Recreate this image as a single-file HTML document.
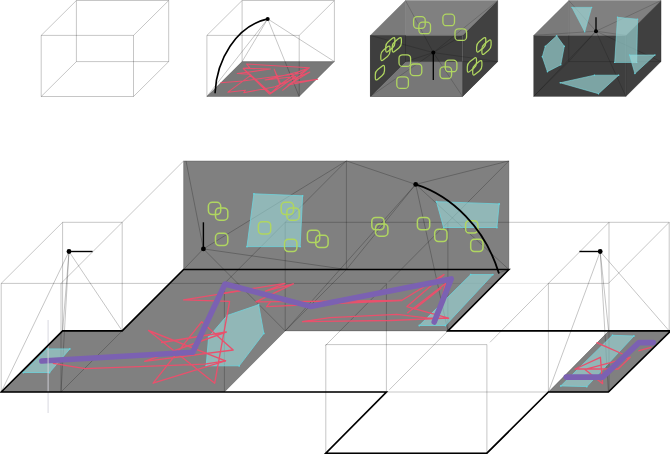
<!DOCTYPE html>
<html lang="en"><head><meta charset="utf-8"><title>Room composition diagram</title>
<style>
html,body{margin:0;padding:0;background:#fff;font-family:"Liberation Sans",sans-serif;}
svg{display:block;}
</style></head><body>
<svg width="670" height="454" viewBox="0 0 670 454">
<rect width="670" height="454" fill="#fff"/>

<g id="box1">
<line x1="41.2" y1="96.5" x2="133.5" y2="96.5" stroke="#000" stroke-opacity="0.30" stroke-width="0.75" fill="none"/>
<line x1="76.4" y1="61.6" x2="168.7" y2="61.6" stroke="#000" stroke-opacity="0.30" stroke-width="0.75" fill="none"/>
<line x1="41.2" y1="96.5" x2="76.4" y2="61.6" stroke="#000" stroke-opacity="0.30" stroke-width="0.75" fill="none"/>
<line x1="133.5" y1="96.5" x2="168.7" y2="61.6" stroke="#000" stroke-opacity="0.30" stroke-width="0.75" fill="none"/>
<line x1="41.2" y1="35.4" x2="133.5" y2="35.4" stroke="#000" stroke-opacity="0.30" stroke-width="0.75" fill="none"/>
<line x1="76.4" y1="0.5" x2="168.7" y2="0.5" stroke="#000" stroke-opacity="0.30" stroke-width="0.75" fill="none"/>
<line x1="41.2" y1="35.4" x2="76.4" y2="0.5" stroke="#000" stroke-opacity="0.30" stroke-width="0.75" fill="none"/>
<line x1="133.5" y1="35.4" x2="168.7" y2="0.5" stroke="#000" stroke-opacity="0.30" stroke-width="0.75" fill="none"/>
<line x1="41.2" y1="96.5" x2="41.2" y2="35.4" stroke="#000" stroke-opacity="0.30" stroke-width="0.75" fill="none"/>
<line x1="133.5" y1="96.5" x2="133.5" y2="35.4" stroke="#000" stroke-opacity="0.30" stroke-width="0.75" fill="none"/>
<line x1="76.4" y1="61.6" x2="76.4" y2="0.5" stroke="#000" stroke-opacity="0.30" stroke-width="0.75" fill="none"/>
<line x1="168.7" y1="61.6" x2="168.7" y2="0.5" stroke="#000" stroke-opacity="0.30" stroke-width="0.75" fill="none"/>
</g>
<g id="box2">
<polygon points="206.9,96.5 299.2,96.5 334.4,61.6 242.1,61.6" fill="#787878"/>
<line x1="206.9" y1="96.5" x2="299.2" y2="96.5" stroke="#000" stroke-opacity="0.30" stroke-width="0.75" fill="none"/>
<line x1="242.1" y1="61.6" x2="334.4" y2="61.6" stroke="#000" stroke-opacity="0.30" stroke-width="0.75" fill="none"/>
<line x1="206.9" y1="96.5" x2="242.1" y2="61.6" stroke="#000" stroke-opacity="0.30" stroke-width="0.75" fill="none"/>
<line x1="299.2" y1="96.5" x2="334.4" y2="61.6" stroke="#000" stroke-opacity="0.30" stroke-width="0.75" fill="none"/>
<line x1="206.9" y1="35.4" x2="299.2" y2="35.4" stroke="#000" stroke-opacity="0.30" stroke-width="0.75" fill="none"/>
<line x1="242.1" y1="0.5" x2="334.4" y2="0.5" stroke="#000" stroke-opacity="0.30" stroke-width="0.75" fill="none"/>
<line x1="206.9" y1="35.4" x2="242.1" y2="0.5" stroke="#000" stroke-opacity="0.30" stroke-width="0.75" fill="none"/>
<line x1="299.2" y1="35.4" x2="334.4" y2="0.5" stroke="#000" stroke-opacity="0.30" stroke-width="0.75" fill="none"/>
<line x1="206.9" y1="96.5" x2="206.9" y2="35.4" stroke="#000" stroke-opacity="0.30" stroke-width="0.75" fill="none"/>
<line x1="299.2" y1="96.5" x2="299.2" y2="35.4" stroke="#000" stroke-opacity="0.30" stroke-width="0.75" fill="none"/>
<line x1="242.1" y1="61.6" x2="242.1" y2="0.5" stroke="#000" stroke-opacity="0.30" stroke-width="0.75" fill="none"/>
<line x1="334.4" y1="61.6" x2="334.4" y2="0.5" stroke="#000" stroke-opacity="0.30" stroke-width="0.75" fill="none"/>
<line x1="267.7" y1="18.9" x2="206.9" y2="96.5" stroke="#000" stroke-opacity="0.30" stroke-width="0.75" fill="none"/>
<line x1="267.7" y1="18.9" x2="299.2" y2="96.5" stroke="#000" stroke-opacity="0.30" stroke-width="0.75" fill="none"/>
<line x1="267.7" y1="18.9" x2="242.1" y2="61.6" stroke="#000" stroke-opacity="0.30" stroke-width="0.75" fill="none"/>
<line x1="267.7" y1="18.9" x2="334.4" y2="61.6" stroke="#000" stroke-opacity="0.30" stroke-width="0.75" fill="none"/>
<polyline points="220.5,82.8 242.7,81.1 275.0,76.5 300.0,73.5 309.4,67.7 246.4,64.0 249.7,67.7 243.2,68.2 270.5,69.1 247.3,72.3 237.2,73.5 250.1,74.2 269.5,94.0 243.2,68.5 271.0,93.5 251.0,75.1 227.9,92.2 245.5,90.3 243.7,92.7 275.0,86.7 309.8,72.0 288.0,85.0 317.7,79.3 292.7,82.5 282.6,90.3 309.4,67.7 299.0,71.5 280.7,84.0 274.2,69.1 279.8,84.8 270.0,94.0 295.5,76.5 265.0,80.0 300.0,71.5" fill="none" stroke="#e9506c" stroke-width="1.05" stroke-linejoin="round"/>
<path d="M215.1,92.6 C216.5,60 236,26 267.7,18.9" fill="none" stroke="#000" stroke-width="1.6" stroke-linecap="round"/>
<circle cx="267.7" cy="18.9" r="2" fill="#000"/>
</g>
<g id="box3">
<polygon points="370.3,35.4 405.5,0.5 405.5,35.4" fill="#7a7a7a"/>
<polygon points="405.5,0.5 497.8,0.5 462.6,35.4 405.5,35.4" fill="#808080"/>
<polygon points="370.3,35.4 462.6,35.4 462.6,96.5 370.3,96.5" fill="#3e3e3e"/>
<polygon points="370.3,96.5 462.6,96.5 497.8,61.6 405.5,61.6" fill="#777777"/>
<polygon points="370.3,96.5 405.5,61.6 405.5,35.4 370.3,35.4" fill="#3e3e3e"/>
<polygon points="462.6,35.4 497.8,0.5 497.8,61.6 462.6,96.5" fill="#414141"/>
<line x1="370.3" y1="96.5" x2="462.6" y2="96.5" stroke="#000" stroke-opacity="0.24" stroke-width="0.7" fill="none"/>
<line x1="405.5" y1="61.6" x2="497.8" y2="61.6" stroke="#000" stroke-opacity="0.24" stroke-width="0.7" fill="none"/>
<line x1="370.3" y1="96.5" x2="405.5" y2="61.6" stroke="#000" stroke-opacity="0.24" stroke-width="0.7" fill="none"/>
<line x1="462.6" y1="96.5" x2="497.8" y2="61.6" stroke="#000" stroke-opacity="0.24" stroke-width="0.7" fill="none"/>
<line x1="370.3" y1="35.4" x2="462.6" y2="35.4" stroke="#000" stroke-opacity="0.24" stroke-width="0.7" fill="none"/>
<line x1="405.5" y1="0.5" x2="497.8" y2="0.5" stroke="#000" stroke-opacity="0.24" stroke-width="0.7" fill="none"/>
<line x1="370.3" y1="35.4" x2="405.5" y2="0.5" stroke="#000" stroke-opacity="0.24" stroke-width="0.7" fill="none"/>
<line x1="462.6" y1="35.4" x2="497.8" y2="0.5" stroke="#000" stroke-opacity="0.24" stroke-width="0.7" fill="none"/>
<line x1="370.3" y1="96.5" x2="370.3" y2="35.4" stroke="#000" stroke-opacity="0.24" stroke-width="0.7" fill="none"/>
<line x1="462.6" y1="96.5" x2="462.6" y2="35.4" stroke="#000" stroke-opacity="0.24" stroke-width="0.7" fill="none"/>
<line x1="405.5" y1="61.6" x2="405.5" y2="0.5" stroke="#000" stroke-opacity="0.24" stroke-width="0.7" fill="none"/>
<line x1="497.8" y1="61.6" x2="497.8" y2="0.5" stroke="#000" stroke-opacity="0.24" stroke-width="0.7" fill="none"/>
<line x1="433.3" y1="52.6" x2="370.3" y2="96.5" stroke="#000" stroke-opacity="0.24" stroke-width="0.7" fill="none"/>
<line x1="433.3" y1="52.6" x2="462.6" y2="96.5" stroke="#000" stroke-opacity="0.24" stroke-width="0.7" fill="none"/>
<line x1="433.3" y1="52.6" x2="405.5" y2="61.6" stroke="#000" stroke-opacity="0.24" stroke-width="0.7" fill="none"/>
<line x1="433.3" y1="52.6" x2="497.8" y2="61.6" stroke="#000" stroke-opacity="0.24" stroke-width="0.7" fill="none"/>
<line x1="433.3" y1="52.6" x2="370.3" y2="35.4" stroke="#000" stroke-opacity="0.24" stroke-width="0.7" fill="none"/>
<line x1="433.3" y1="52.6" x2="462.6" y2="35.4" stroke="#000" stroke-opacity="0.24" stroke-width="0.7" fill="none"/>
<line x1="433.3" y1="52.6" x2="405.5" y2="0.5" stroke="#000" stroke-opacity="0.24" stroke-width="0.7" fill="none"/>
<line x1="433.3" y1="52.6" x2="497.8" y2="0.5" stroke="#000" stroke-opacity="0.24" stroke-width="0.7" fill="none"/>
<rect x="413.6" y="16.7" width="11.6" height="11.6" rx="3.5" fill="none" stroke="#b0d660" stroke-width="1.3"/>
<rect x="418.9" y="22.1" width="11.6" height="11.6" rx="3.5" fill="none" stroke="#b0d660" stroke-width="1.3"/>
<rect x="442.9" y="14.1" width="11.6" height="11.6" rx="3.5" fill="none" stroke="#b0d660" stroke-width="1.3"/>
<rect x="455.0" y="28.8" width="11.6" height="11.6" rx="3.5" fill="none" stroke="#b0d660" stroke-width="1.3"/>
<rect x="399.0" y="54.8" width="11.6" height="11.6" rx="3.5" fill="none" stroke="#b0d660" stroke-width="1.3"/>
<rect x="410.2" y="64.0" width="11.6" height="11.6" rx="3.5" fill="none" stroke="#b0d660" stroke-width="1.3"/>
<rect x="396.8" y="76.8" width="11.6" height="11.6" rx="3.5" fill="none" stroke="#b0d660" stroke-width="1.3"/>
<rect x="445.3" y="60.1" width="11.6" height="11.6" rx="3.5" fill="none" stroke="#b0d660" stroke-width="1.3"/>
<rect x="440.0" y="66.9" width="11.6" height="11.6" rx="3.5" fill="none" stroke="#b0d660" stroke-width="1.3"/>
<path d="M385.70,46.88 Q385.70,43.68 388.20,41.68 L392.40,38.32 Q394.90,36.32 394.90,39.52 L394.90,42.72 Q394.90,45.92 392.40,47.92 L388.20,51.28 Q385.70,53.28 385.70,50.08 Z" fill="none" stroke="#b0d660" stroke-width="1.25"/>
<path d="M392.20,46.88 Q392.20,43.68 394.70,41.68 L398.90,38.32 Q401.40,36.32 401.40,39.52 L401.40,42.72 Q401.40,45.92 398.90,47.92 L394.70,51.28 Q392.20,53.28 392.20,50.08 Z" fill="none" stroke="#b0d660" stroke-width="1.25"/>
<path d="M380.80,55.38 Q380.80,52.18 383.30,50.18 L387.50,46.82 Q390.00,44.82 390.00,48.02 L390.00,51.22 Q390.00,54.42 387.50,56.42 L383.30,59.78 Q380.80,61.78 380.80,58.58 Z" fill="none" stroke="#b0d660" stroke-width="1.25"/>
<path d="M375.30,74.78 Q375.30,71.58 377.80,69.58 L382.00,66.22 Q384.50,64.22 384.50,67.42 L384.50,70.62 Q384.50,73.82 382.00,75.82 L377.80,79.18 Q375.30,81.18 375.30,77.98 Z" fill="none" stroke="#b0d660" stroke-width="1.25"/>
<path d="M476.60,46.88 Q476.60,43.68 479.10,41.68 L483.30,38.32 Q485.80,36.32 485.80,39.52 L485.80,42.72 Q485.80,45.92 483.30,47.92 L479.10,51.28 Q476.60,53.28 476.60,50.08 Z" fill="none" stroke="#b0d660" stroke-width="1.25"/>
<path d="M481.90,49.28 Q481.90,46.08 484.40,44.08 L488.60,40.72 Q491.10,38.72 491.10,41.92 L491.10,45.12 Q491.10,48.32 488.60,50.32 L484.40,53.68 Q481.90,55.68 481.90,52.48 Z" fill="none" stroke="#b0d660" stroke-width="1.25"/>
<path d="M467.30,66.98 Q467.30,63.78 469.80,61.78 L474.00,58.42 Q476.50,56.42 476.50,59.62 L476.50,62.82 Q476.50,66.02 474.00,68.02 L469.80,71.38 Q467.30,73.38 467.30,70.18 Z" fill="none" stroke="#b0d660" stroke-width="1.25"/>
<path d="M472.70,69.88 Q472.70,66.68 475.20,64.68 L479.40,61.32 Q481.90,59.32 481.90,62.52 L481.90,65.72 Q481.90,68.92 479.40,70.92 L475.20,74.28 Q472.70,76.28 472.70,73.08 Z" fill="none" stroke="#b0d660" stroke-width="1.25"/>
<line x1="433.3" y1="52.6" x2="433.3" y2="80.1" stroke="#000" stroke-width="1.3"/>
<circle cx="433.3" cy="52.6" r="2" fill="#000"/>
</g>
<g id="box4">
<polygon points="533.6,35.4 568.8,0.5 568.8,35.4" fill="#7a7a7a"/>
<polygon points="568.8,0.5 661.1,0.5 625.9,35.4 568.8,35.4" fill="#808080"/>
<polygon points="533.6,35.4 625.9,35.4 625.9,96.5 533.6,96.5" fill="#3e3e3e"/>
<polygon points="625.9,35.4 661.1,0.5 661.1,61.6 625.9,96.5" fill="#404040"/>
<line x1="533.6" y1="96.5" x2="625.9" y2="96.5" stroke="#000" stroke-opacity="0.24" stroke-width="0.7" fill="none"/>
<line x1="568.8" y1="61.6" x2="661.1" y2="61.6" stroke="#000" stroke-opacity="0.24" stroke-width="0.7" fill="none"/>
<line x1="533.6" y1="96.5" x2="568.8" y2="61.6" stroke="#000" stroke-opacity="0.24" stroke-width="0.7" fill="none"/>
<line x1="625.9" y1="96.5" x2="661.1" y2="61.6" stroke="#000" stroke-opacity="0.24" stroke-width="0.7" fill="none"/>
<line x1="533.6" y1="35.4" x2="625.9" y2="35.4" stroke="#000" stroke-opacity="0.24" stroke-width="0.7" fill="none"/>
<line x1="568.8" y1="0.5" x2="661.1" y2="0.5" stroke="#000" stroke-opacity="0.24" stroke-width="0.7" fill="none"/>
<line x1="533.6" y1="35.4" x2="568.8" y2="0.5" stroke="#000" stroke-opacity="0.24" stroke-width="0.7" fill="none"/>
<line x1="625.9" y1="35.4" x2="661.1" y2="0.5" stroke="#000" stroke-opacity="0.24" stroke-width="0.7" fill="none"/>
<line x1="533.6" y1="96.5" x2="533.6" y2="35.4" stroke="#000" stroke-opacity="0.24" stroke-width="0.7" fill="none"/>
<line x1="625.9" y1="96.5" x2="625.9" y2="35.4" stroke="#000" stroke-opacity="0.24" stroke-width="0.7" fill="none"/>
<line x1="568.8" y1="61.6" x2="568.8" y2="0.5" stroke="#000" stroke-opacity="0.24" stroke-width="0.7" fill="none"/>
<line x1="661.1" y1="61.6" x2="661.1" y2="0.5" stroke="#000" stroke-opacity="0.24" stroke-width="0.7" fill="none"/>
<line x1="596.0" y1="31.2" x2="533.6" y2="96.5" stroke="#000" stroke-opacity="0.24" stroke-width="0.7" fill="none"/>
<line x1="596.0" y1="31.2" x2="625.9" y2="96.5" stroke="#000" stroke-opacity="0.24" stroke-width="0.7" fill="none"/>
<line x1="596.0" y1="31.2" x2="568.8" y2="61.6" stroke="#000" stroke-opacity="0.24" stroke-width="0.7" fill="none"/>
<line x1="596.0" y1="31.2" x2="661.1" y2="61.6" stroke="#000" stroke-opacity="0.24" stroke-width="0.7" fill="none"/>
<line x1="596.0" y1="31.2" x2="533.6" y2="35.4" stroke="#000" stroke-opacity="0.24" stroke-width="0.7" fill="none"/>
<line x1="596.0" y1="31.2" x2="625.9" y2="35.4" stroke="#000" stroke-opacity="0.24" stroke-width="0.7" fill="none"/>
<line x1="596.0" y1="31.2" x2="568.8" y2="0.5" stroke="#000" stroke-opacity="0.24" stroke-width="0.7" fill="none"/>
<line x1="596.0" y1="31.2" x2="661.1" y2="0.5" stroke="#000" stroke-opacity="0.24" stroke-width="0.7" fill="none"/>
<polygon points="572.0,7.4 591.6,7.4 584.7,31.7" fill="#9fdede" fill-opacity="0.64" stroke="#7ad6dc" stroke-width="0.6" stroke-linejoin="round"/>
<circle cx="572.0" cy="7.4" r="0.7" fill="#62d4de"/>
<circle cx="591.6" cy="7.4" r="0.7" fill="#62d4de"/>
<circle cx="584.7" cy="31.7" r="0.7" fill="#62d4de"/>
<polygon points="556.7,35.8 564.3,46.3 560.8,64.8 547.4,71.7 542.3,56.7 545.3,46.3" fill="#9fdede" fill-opacity="0.64" stroke="#7ad6dc" stroke-width="0.6" stroke-linejoin="round"/>
<circle cx="556.7" cy="35.8" r="0.7" fill="#62d4de"/>
<circle cx="564.3" cy="46.3" r="0.7" fill="#62d4de"/>
<circle cx="560.8" cy="64.8" r="0.7" fill="#62d4de"/>
<circle cx="547.4" cy="71.7" r="0.7" fill="#62d4de"/>
<circle cx="542.3" cy="56.7" r="0.7" fill="#62d4de"/>
<circle cx="545.3" cy="46.3" r="0.7" fill="#62d4de"/>
<polygon points="617.5,17.3 637.6,19.2 636.7,62.4 614.7,62.4" fill="#9fdede" fill-opacity="0.64" stroke="#7ad6dc" stroke-width="0.6" stroke-linejoin="round"/>
<circle cx="617.5" cy="17.3" r="0.7" fill="#62d4de"/>
<circle cx="637.6" cy="19.2" r="0.7" fill="#62d4de"/>
<circle cx="636.7" cy="62.4" r="0.7" fill="#62d4de"/>
<circle cx="614.7" cy="62.4" r="0.7" fill="#62d4de"/>
<polygon points="629.5,55.0 655.0,55.0 634.9,73.5" fill="#9fdede" fill-opacity="0.64" stroke="#7ad6dc" stroke-width="0.6" stroke-linejoin="round"/>
<circle cx="629.5" cy="55.0" r="0.7" fill="#62d4de"/>
<circle cx="655.0" cy="55.0" r="0.7" fill="#62d4de"/>
<circle cx="634.9" cy="73.5" r="0.7" fill="#62d4de"/>
<polygon points="560.2,82.8 594.4,75.2 618.7,75.2 598.5,93.7" fill="#9fdede" fill-opacity="0.64" stroke="#7ad6dc" stroke-width="0.6" stroke-linejoin="round"/>
<circle cx="560.2" cy="82.8" r="0.7" fill="#62d4de"/>
<circle cx="594.4" cy="75.2" r="0.7" fill="#62d4de"/>
<circle cx="618.7" cy="75.2" r="0.7" fill="#62d4de"/>
<circle cx="598.5" cy="93.7" r="0.7" fill="#62d4de"/>
<line x1="596.0" y1="31.2" x2="596.0" y2="17.3" stroke="#000" stroke-width="1.3"/>
<circle cx="596.0" cy="31.2" r="2" fill="#000"/>
</g>
<g id="scene">
<polygon points="183.6,160.9 508.9,160.9 508.9,269.5 183.6,269.5" fill="#808080"/>
<polygon points="1.2,392.0 62.6,330.9 122.2,330.9 183.6,269.5 508.9,269.5 447.9,330.9 285.2,330.9 224.4,392.0" fill="#808080"/>
<polygon points="548.4,392.0 608.4,392.0 669.2,330.9 608.6,330.9" fill="#808080"/>
<line x1="1.2" y1="392.0" x2="608.4" y2="392.0" stroke="#000" stroke-opacity="0.30" stroke-width="0.75" fill="none"/>
<line x1="62.6" y1="330.9" x2="122.2" y2="330.9" stroke="#000" stroke-opacity="0.30" stroke-width="0.75" fill="none"/>
<line x1="285.2" y1="330.9" x2="669.2" y2="330.9" stroke="#000" stroke-opacity="0.30" stroke-width="0.75" fill="none"/>
<line x1="1.2" y1="392.0" x2="62.6" y2="330.9" stroke="#000" stroke-opacity="0.30" stroke-width="0.75" fill="none"/>
<line x1="60.8" y1="392.2" x2="183.4" y2="269.8" stroke="#000" stroke-opacity="0.30" stroke-width="0.75" fill="none"/>
<line x1="1.2" y1="283.4" x2="386.4" y2="283.4" stroke="#000" stroke-opacity="0.30" stroke-width="0.75" fill="none"/>
<line x1="548.4" y1="283.4" x2="608.4" y2="283.4" stroke="#000" stroke-opacity="0.30" stroke-width="0.75" fill="none"/>
<line x1="62.6" y1="222.3" x2="122.2" y2="222.3" stroke="#000" stroke-opacity="0.30" stroke-width="0.75" fill="none"/>
<line x1="285.2" y1="222.3" x2="669.2" y2="222.3" stroke="#000" stroke-opacity="0.30" stroke-width="0.75" fill="none"/>
<line x1="1.2" y1="283.4" x2="62.6" y2="222.3" stroke="#000" stroke-opacity="0.30" stroke-width="0.75" fill="none"/>
<line x1="60.9" y1="283.5" x2="183.4" y2="161.2" stroke="#000" stroke-opacity="0.30" stroke-width="0.75" fill="none"/>
<line x1="1.2" y1="283.4" x2="1.2" y2="392.0" stroke="#000" stroke-opacity="0.30" stroke-width="0.75" fill="none"/>
<line x1="61.0" y1="283.4" x2="61.0" y2="392.0" stroke="#000" stroke-opacity="0.30" stroke-width="0.75" fill="none"/>
<line x1="62.6" y1="222.3" x2="62.6" y2="330.9" stroke="#000" stroke-opacity="0.30" stroke-width="0.75" fill="none"/>
<line x1="122.2" y1="222.3" x2="122.2" y2="330.9" stroke="#000" stroke-opacity="0.30" stroke-width="0.75" fill="none"/>
<line x1="183.6" y1="269.5" x2="508.9" y2="269.5" stroke="#000" stroke-opacity="0.30" stroke-width="0.75" fill="none"/>
<line x1="224.3" y1="392.1" x2="346.5" y2="269.4" stroke="#000" stroke-opacity="0.30" stroke-width="0.75" fill="none"/>
<line x1="183.6" y1="160.9" x2="508.9" y2="160.9" stroke="#000" stroke-opacity="0.30" stroke-width="0.75" fill="none"/>
<line x1="224.3" y1="283.5" x2="346.5" y2="160.8" stroke="#000" stroke-opacity="0.30" stroke-width="0.75" fill="none"/>
<line x1="224.4" y1="283.4" x2="224.4" y2="392.0" stroke="#000" stroke-opacity="0.30" stroke-width="0.75" fill="none"/>
<line x1="183.6" y1="160.9" x2="183.6" y2="269.5" stroke="#000" stroke-opacity="0.30" stroke-width="0.75" fill="none"/>
<line x1="346.4" y1="160.9" x2="346.4" y2="269.5" stroke="#000" stroke-opacity="0.30" stroke-width="0.75" fill="none"/>
<line x1="325.5" y1="454.1" x2="386.2" y2="393.0" stroke="#000" stroke-opacity="0.30" stroke-width="0.75" fill="none"/>
<line x1="389.3" y1="389.8" x2="508.9" y2="269.5" stroke="#000" stroke-opacity="0.30" stroke-width="0.75" fill="none"/>
<line x1="325.5" y1="345.5" x2="386.2" y2="284.4" stroke="#000" stroke-opacity="0.30" stroke-width="0.75" fill="none"/>
<line x1="389.0" y1="281.6" x2="508.9" y2="160.9" stroke="#000" stroke-opacity="0.30" stroke-width="0.75" fill="none"/>
<line x1="285.2" y1="222.3" x2="285.2" y2="330.9" stroke="#000" stroke-opacity="0.30" stroke-width="0.75" fill="none"/>
<line x1="447.9" y1="222.3" x2="447.9" y2="330.9" stroke="#000" stroke-opacity="0.30" stroke-width="0.75" fill="none"/>
<line x1="508.9" y1="160.9" x2="508.9" y2="269.5" stroke="#000" stroke-opacity="0.30" stroke-width="0.75" fill="none"/>
<line x1="386.4" y1="283.4" x2="386.4" y2="392.0" stroke="#000" stroke-opacity="0.30" stroke-width="0.75" fill="none"/>
<line x1="490.4" y1="450.5" x2="609.0" y2="330.9" stroke="#000" stroke-opacity="0.30" stroke-width="0.75" fill="none"/>
<line x1="490.0" y1="342.3" x2="609.0" y2="222.3" stroke="#000" stroke-opacity="0.30" stroke-width="0.75" fill="none"/>
<line x1="548.4" y1="283.4" x2="548.4" y2="392.0" stroke="#000" stroke-opacity="0.30" stroke-width="0.75" fill="none"/>
<line x1="609.0" y1="222.3" x2="609.0" y2="392.0" stroke="#000" stroke-opacity="0.30" stroke-width="0.75" fill="none"/>
<line x1="325.8" y1="453.2" x2="486.9" y2="453.2" stroke="#000" stroke-opacity="0.30" stroke-width="0.75" fill="none"/>
<line x1="325.8" y1="344.6" x2="486.9" y2="344.6" stroke="#000" stroke-opacity="0.30" stroke-width="0.75" fill="none"/>
<line x1="325.8" y1="344.6" x2="325.8" y2="453.2" stroke="#000" stroke-opacity="0.30" stroke-width="0.75" fill="none"/>
<line x1="486.9" y1="344.6" x2="486.9" y2="453.2" stroke="#000" stroke-opacity="0.30" stroke-width="0.75" fill="none"/>
<line x1="608.4" y1="392.0" x2="669.2" y2="330.9" stroke="#000" stroke-opacity="0.30" stroke-width="0.75" fill="none"/>
<line x1="608.4" y1="283.4" x2="669.2" y2="222.3" stroke="#000" stroke-opacity="0.30" stroke-width="0.75" fill="none"/>
<line x1="669.2" y1="222.3" x2="669.2" y2="330.9" stroke="#000" stroke-opacity="0.30" stroke-width="0.75" fill="none"/>
<line x1="386.4" y1="283.4" x2="548.4" y2="283.4" stroke="#000" stroke-opacity="0.13" stroke-width="0.75" fill="none"/>
<line x1="69.0" y1="251.5" x2="1.2" y2="392.0" stroke="#000" stroke-opacity="0.33" stroke-width="0.7" fill="none"/>
<line x1="69.0" y1="251.5" x2="61.0" y2="392.0" stroke="#000" stroke-opacity="0.33" stroke-width="0.7" fill="none"/>
<line x1="69.0" y1="251.5" x2="62.6" y2="330.9" stroke="#000" stroke-opacity="0.33" stroke-width="0.7" fill="none"/>
<line x1="69.0" y1="251.5" x2="122.2" y2="330.9" stroke="#000" stroke-opacity="0.33" stroke-width="0.7" fill="none"/>
<line x1="600.2" y1="251.5" x2="548.4" y2="392.0" stroke="#000" stroke-opacity="0.33" stroke-width="0.7" fill="none"/>
<line x1="600.2" y1="251.5" x2="608.4" y2="392.0" stroke="#000" stroke-opacity="0.33" stroke-width="0.7" fill="none"/>
<line x1="600.2" y1="251.5" x2="608.6" y2="330.9" stroke="#000" stroke-opacity="0.33" stroke-width="0.7" fill="none"/>
<line x1="600.2" y1="251.5" x2="669.2" y2="330.9" stroke="#000" stroke-opacity="0.33" stroke-width="0.7" fill="none"/>
<line x1="203.4" y1="248.9" x2="186.0" y2="160.9" stroke="#000" stroke-opacity="0.33" stroke-width="0.7" fill="none"/>
<line x1="203.4" y1="248.9" x2="183.6" y2="269.5" stroke="#000" stroke-opacity="0.33" stroke-width="0.7" fill="none"/>
<line x1="203.4" y1="248.9" x2="346.4" y2="269.5" stroke="#000" stroke-opacity="0.33" stroke-width="0.7" fill="none"/>
<line x1="203.4" y1="248.9" x2="346.4" y2="160.9" stroke="#000" stroke-opacity="0.33" stroke-width="0.7" fill="none"/>
<line x1="203.4" y1="248.9" x2="285.2" y2="330.9" stroke="#000" stroke-opacity="0.33" stroke-width="0.7" fill="none"/>
<line x1="415.7" y1="184.4" x2="346.4" y2="160.9" stroke="#000" stroke-opacity="0.33" stroke-width="0.7" fill="none"/>
<line x1="415.7" y1="184.4" x2="508.9" y2="160.9" stroke="#000" stroke-opacity="0.33" stroke-width="0.7" fill="none"/>
<line x1="415.7" y1="184.4" x2="447.9" y2="330.9" stroke="#000" stroke-opacity="0.33" stroke-width="0.7" fill="none"/>
<line x1="415.7" y1="184.4" x2="508.9" y2="269.5" stroke="#000" stroke-opacity="0.33" stroke-width="0.7" fill="none"/>
<line x1="415.7" y1="184.4" x2="285.2" y2="330.9" stroke="#000" stroke-opacity="0.33" stroke-width="0.7" fill="none"/>
<line x1="415.7" y1="184.4" x2="346.4" y2="269.5" stroke="#000" stroke-opacity="0.33" stroke-width="0.7" fill="none"/>
<polygon points="253.9,193.8 302.6,195.8 300.1,246.6 247.0,246.6" fill="#9fe3e3" fill-opacity="0.55" stroke="#6fd3dc" stroke-width="0.8" stroke-linejoin="round"/>
<circle cx="253.9" cy="193.8" r="0.9" fill="#62d4de"/>
<circle cx="302.6" cy="195.8" r="0.9" fill="#62d4de"/>
<circle cx="300.1" cy="246.6" r="0.9" fill="#62d4de"/>
<circle cx="247.0" cy="246.6" r="0.9" fill="#62d4de"/>
<polygon points="436.5,201.7 499.2,203.9 496.9,227.5 443.6,227.5" fill="#9fe3e3" fill-opacity="0.55" stroke="#6fd3dc" stroke-width="0.8" stroke-linejoin="round"/>
<circle cx="436.5" cy="201.7" r="0.9" fill="#62d4de"/>
<circle cx="499.2" cy="203.9" r="0.9" fill="#62d4de"/>
<circle cx="496.9" cy="227.5" r="0.9" fill="#62d4de"/>
<circle cx="443.6" cy="227.5" r="0.9" fill="#62d4de"/>
<polygon points="47.0,348.9 69.8,348.9 49.5,372.5 23.3,372.5" fill="#9fe3e3" fill-opacity="0.55" stroke="#6fd3dc" stroke-width="0.8" stroke-linejoin="round"/>
<circle cx="47.0" cy="348.9" r="0.9" fill="#62d4de"/>
<circle cx="69.8" cy="348.9" r="0.9" fill="#62d4de"/>
<circle cx="49.5" cy="372.5" r="0.9" fill="#62d4de"/>
<circle cx="23.3" cy="372.5" r="0.9" fill="#62d4de"/>
<polygon points="258.6,304.7 263.8,333.4 239.2,365.8 206.2,365.8 208.6,337.1 227.1,315.5" fill="#9fe3e3" fill-opacity="0.55" stroke="#6fd3dc" stroke-width="0.8" stroke-linejoin="round"/>
<circle cx="258.6" cy="304.7" r="0.9" fill="#62d4de"/>
<circle cx="263.8" cy="333.4" r="0.9" fill="#62d4de"/>
<circle cx="239.2" cy="365.8" r="0.9" fill="#62d4de"/>
<circle cx="206.2" cy="365.8" r="0.9" fill="#62d4de"/>
<circle cx="208.6" cy="337.1" r="0.9" fill="#62d4de"/>
<circle cx="227.1" cy="315.5" r="0.9" fill="#62d4de"/>
<polygon points="470.7,274.6 492.8,274.6 445.4,325.5 419.3,325.5" fill="#9fe3e3" fill-opacity="0.55" stroke="#6fd3dc" stroke-width="0.8" stroke-linejoin="round"/>
<circle cx="470.7" cy="274.6" r="0.9" fill="#62d4de"/>
<circle cx="492.8" cy="274.6" r="0.9" fill="#62d4de"/>
<circle cx="445.4" cy="325.5" r="0.9" fill="#62d4de"/>
<circle cx="419.3" cy="325.5" r="0.9" fill="#62d4de"/>
<polygon points="612.5,335.3 633.9,336.0 586.8,386.6 560.8,385.9" fill="#9fe3e3" fill-opacity="0.55" stroke="#6fd3dc" stroke-width="0.8" stroke-linejoin="round"/>
<circle cx="612.5" cy="335.3" r="0.9" fill="#62d4de"/>
<circle cx="633.9" cy="336.0" r="0.9" fill="#62d4de"/>
<circle cx="586.8" cy="386.6" r="0.9" fill="#62d4de"/>
<circle cx="560.8" cy="385.9" r="0.9" fill="#62d4de"/>
<rect x="208.4" y="202.3" width="12.3" height="12.3" rx="3.8" fill="none" stroke="#b0d660" stroke-width="1.5"/>
<rect x="215.5" y="207.9" width="12.3" height="12.3" rx="3.8" fill="none" stroke="#b0d660" stroke-width="1.5"/>
<rect x="215.5" y="233.3" width="12.3" height="12.3" rx="3.8" fill="none" stroke="#b0d660" stroke-width="1.5"/>
<rect x="258.4" y="221.7" width="12.3" height="12.3" rx="3.8" fill="none" stroke="#b0d660" stroke-width="1.5"/>
<rect x="281.2" y="202.3" width="12.3" height="12.3" rx="3.8" fill="none" stroke="#b0d660" stroke-width="1.5"/>
<rect x="286.9" y="207.9" width="12.3" height="12.3" rx="3.8" fill="none" stroke="#b0d660" stroke-width="1.5"/>
<rect x="284.6" y="239.2" width="12.3" height="12.3" rx="3.8" fill="none" stroke="#b0d660" stroke-width="1.5"/>
<rect x="307.4" y="230.2" width="12.3" height="12.3" rx="3.8" fill="none" stroke="#b0d660" stroke-width="1.5"/>
<rect x="315.8" y="235.3" width="12.3" height="12.3" rx="3.8" fill="none" stroke="#b0d660" stroke-width="1.5"/>
<rect x="371.8" y="217.5" width="12.3" height="12.3" rx="3.8" fill="none" stroke="#b0d660" stroke-width="1.5"/>
<rect x="375.6" y="223.9" width="12.3" height="12.3" rx="3.8" fill="none" stroke="#b0d660" stroke-width="1.5"/>
<rect x="417.4" y="217.5" width="12.3" height="12.3" rx="3.8" fill="none" stroke="#b0d660" stroke-width="1.5"/>
<rect x="434.7" y="229.2" width="12.3" height="12.3" rx="3.8" fill="none" stroke="#b0d660" stroke-width="1.5"/>
<rect x="465.6" y="220.7" width="12.3" height="12.3" rx="3.8" fill="none" stroke="#b0d660" stroke-width="1.5"/>
<rect x="470.7" y="239.2" width="12.3" height="12.3" rx="3.8" fill="none" stroke="#b0d660" stroke-width="1.5"/>
<polyline points="53.3,363.3 85.0,368.6 204.7,364.2 225.5,360.8 148.5,330.5 214.7,383.2 229.6,301.3 183.6,299.9 240.0,290.9" fill="none" stroke="#e9506c" stroke-width="1.35" stroke-linejoin="round" stroke-linecap="round"/>
<polyline points="161.6,342.5 226.3,332.0 144.6,361.3 233.2,350.0 201.6,321.8 153.1,383.2 225.5,360.8" fill="none" stroke="#e9506c" stroke-width="1.35" stroke-linejoin="round" stroke-linecap="round"/>
<polyline points="223.9,293.1 285.0,283.4 265.6,291.2 293.3,283.8 255.9,301.9 401.6,300.5 266.6,306.7 270.8,301.5" fill="none" stroke="#e9506c" stroke-width="1.35" stroke-linejoin="round" stroke-linecap="round"/>
<polyline points="401.6,300.5 444.0,274.6 407.0,306.6 448.6,318.2 428.5,318.2 396.9,314.3 330.0,317.6 302.5,321.7 390.0,320.5 448.6,318.2" fill="none" stroke="#e9506c" stroke-width="1.35" stroke-linejoin="round" stroke-linecap="round"/>
<polyline points="407.7,312.8 445.5,283.5 437.8,315.9" fill="none" stroke="#e9506c" stroke-width="1.35" stroke-linejoin="round" stroke-linecap="round"/>
<polyline points="414.7,308.9 440.9,288.1" fill="none" stroke="#e9506c" stroke-width="1.35" stroke-linejoin="round" stroke-linecap="round"/>
<polyline points="597.1,342.6 622.5,354.0 597.1,342.8" fill="none" stroke="#e9506c" stroke-width="1.35" stroke-linejoin="round" stroke-linecap="round"/>
<polyline points="575.1,369.0 600.4,357.3 602.6,383.7 585.0,369.4 630.2,357.3 618.0,369.0 575.1,369.0" fill="none" stroke="#e9506c" stroke-width="1.35" stroke-linejoin="round" stroke-linecap="round"/>
<polyline points="639.0,350.7 651.0,347.4" fill="none" stroke="#e9506c" stroke-width="1.35" stroke-linejoin="round" stroke-linecap="round"/>
<polyline points="41.9,361.0 192.7,352.2 225.0,284.0 310.5,306.4 451.2,278.9 434.2,322.0" fill="none" stroke="#7b61b2" stroke-width="5.6" stroke-linejoin="round" stroke-linecap="round"/>
<polyline points="566.3,377.1 602.6,377.1 639.0,342.6 653.3,342.6" fill="none" stroke="#7b61b2" stroke-width="5.6" stroke-linejoin="round" stroke-linecap="round"/>
<line x1="48.1" y1="320.0" x2="48.1" y2="413.0" stroke="#d4d4dc" stroke-width="0.9"/>
<polygon points="1.2,392.0 62.6,330.9 122.2,330.9 183.6,269.5 508.9,269.5 447.9,330.9 670.5,330.9 670.5,331.1 608.4,392.0 548.4,392.0 486.9,453.2 325.8,453.2 386.4,392.0" fill="none" stroke="#000" stroke-width="1.65" stroke-linejoin="miter"/>
<path d="M415.7,184.4 C452,196 485,228 498.7,272.8" fill="none" stroke="#000" stroke-width="1.8" stroke-linecap="round"/>
<line x1="498.7" y1="272.8" x2="508.9" y2="269.5" stroke="#000" stroke-opacity="0.33" stroke-width="0.7" fill="none"/>
<line x1="203.4" y1="248.9" x2="203.4" y2="222.3" stroke="#000" stroke-width="1.4"/>
<line x1="69.0" y1="251.5" x2="92.6" y2="251.5" stroke="#000" stroke-width="1.4"/>
<line x1="600.2" y1="251.5" x2="579.4" y2="251.5" stroke="#000" stroke-width="1.4"/>
<circle cx="69.0" cy="251.5" r="2.4" fill="#000"/>
<circle cx="600.2" cy="251.5" r="2.4" fill="#000"/>
<circle cx="203.4" cy="248.9" r="2.4" fill="#000"/>
<circle cx="415.7" cy="184.4" r="2.4" fill="#000"/>
</g>
</svg>
</body></html>
